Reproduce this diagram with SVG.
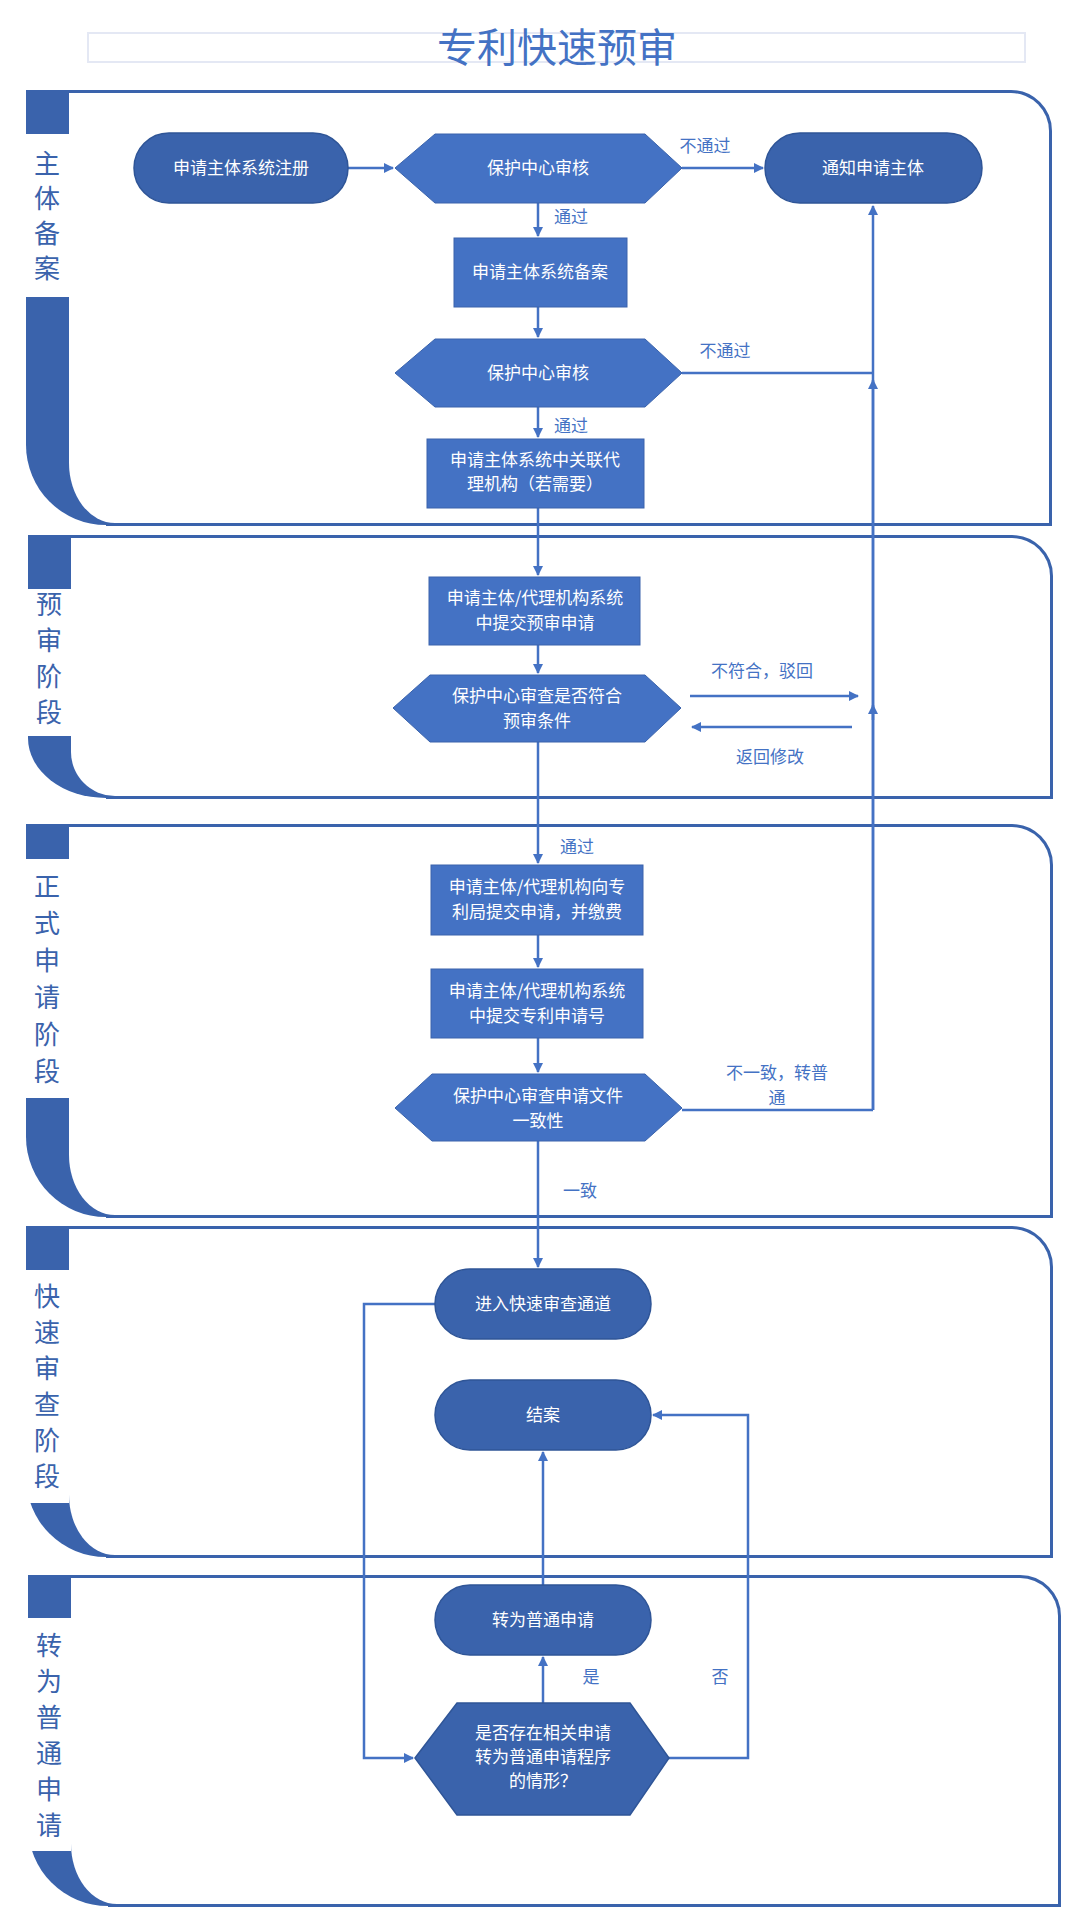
<svg xmlns="http://www.w3.org/2000/svg" width="1080" height="1928" viewBox="0 0 1080 1928">
<style>
.lane{fill:#3A63AC}
.inner{fill:#fff}
.out{fill:none;stroke:#3A63AC;stroke-width:2}
.lbl{fill:#fff}
.lt{font-family:"Noto Sans CJK SC",sans-serif;font-size:26px;fill:#3A63AC;text-anchor:middle}
.dk{fill:#3A63AC;stroke:#2F5597;stroke-width:1.5}
.lg{fill:#4472C4;stroke:#3A63AC;stroke-width:1}
.nt{font-family:"Noto Sans CJK SC",sans-serif;font-size:17px;fill:#fff;text-anchor:middle}
.el{font-family:"Noto Sans CJK SC",sans-serif;font-size:17px;fill:#4472C4;text-anchor:middle}
.c{fill:none;stroke:#4472C4;stroke-width:2.5}
</style>
<defs>
<marker id="a" markerWidth="10" markerHeight="10" refX="9" refY="5" orient="auto" markerUnits="userSpaceOnUse" viewBox="0 0 10 10"><path d="M0,0 L10,5 L0,10 Z" fill="#4472C4"/></marker>
</defs>
<rect x="88" y="33" width="937" height="29" fill="#fff" stroke="#E4E8F4" stroke-width="2"/>
<text x="557" y="62" font-family="Noto Sans CJK SC,sans-serif" font-size="40" fill="#4472C4" text-anchor="middle">专利快速预审</text>

<g id="lane1">
<path class="lane" d="M26,91 H1011 A40,40 0 0 1 1051,131 V525 H106 A80,80 0 0 1 26,445 Z"/>
<path class="inner" d="M69,93 H1011 A38,38 0 0 1 1049,131 V523 H115 A46,60 0 0 1 69,463 Z"/>
<path class="out" d="M26,91 H1011 A40,40 0 0 1 1051,131 V525 H106"/>
<rect class="lbl" x="26" y="134" width="43" height="163"/>
<text class="lt"><tspan x="47" y="173">主</tspan><tspan x="47" y="208">体</tspan><tspan x="47" y="243">备</tspan><tspan x="47" y="278">案</tspan></text>
</g>
<g id="lane2">
<path class="lane" d="M28,536 H1012 A40,40 0 0 1 1052,576 V798 H106 A78,60 0 0 1 28,738 Z"/>
<path class="inner" d="M71,538 H1012 A38,38 0 0 1 1050,576 V796 H115 A44,44 0 0 1 71,752 Z"/>
<path class="out" d="M28,536 H1012 A40,40 0 0 1 1052,576 V798 H106"/>
<rect class="lbl" x="28" y="589" width="43" height="147"/>
<text class="lt"><tspan x="49" y="614">预</tspan><tspan x="49" y="650">审</tspan><tspan x="49" y="686">阶</tspan><tspan x="49" y="722">段</tspan></text>
</g>
<g id="lane3">
<path class="lane" d="M26,825 H1012 A40,40 0 0 1 1052,865 V1217 H106 A80,80 0 0 1 26,1137 Z"/>
<path class="inner" d="M69,827 H1012 A38,38 0 0 1 1050,865 V1215 H115 A46,60 0 0 1 69,1155 Z"/>
<path class="out" d="M26,825 H1012 A40,40 0 0 1 1052,865 V1217 H106"/>
<rect class="lbl" x="26" y="859" width="43" height="239"/>
<text class="lt"><tspan x="47" y="896">正</tspan><tspan x="47" y="933">式</tspan><tspan x="47" y="970">申</tspan><tspan x="47" y="1007">请</tspan><tspan x="47" y="1044">阶</tspan><tspan x="47" y="1081">段</tspan></text>
</g>
<g id="lane4">
<path class="lane" d="M26,1227 H1012 A40,40 0 0 1 1052,1267 V1557 H106 A80,80 0 0 1 26,1477 Z"/>
<path class="inner" d="M69,1229 H1012 A38,38 0 0 1 1050,1267 V1555 H115 A46,60 0 0 1 69,1495 Z"/>
<path class="out" d="M26,1227 H1012 A40,40 0 0 1 1052,1267 V1557 H106"/>
<rect class="lbl" x="26" y="1270" width="43" height="233"/>
<text class="lt"><tspan x="47" y="1306">快</tspan><tspan x="47" y="1342">速</tspan><tspan x="47" y="1378">审</tspan><tspan x="47" y="1414">查</tspan><tspan x="47" y="1450">阶</tspan><tspan x="47" y="1486">段</tspan></text>
</g>
<g id="lane5">
<path class="lane" d="M28,1576 H1020 A40,40 0 0 1 1060,1616 V1906 H108 A80,80 0 0 1 28,1826 Z"/>
<path class="inner" d="M71,1578 H1020 A38,38 0 0 1 1058,1616 V1904 H117 A46,60 0 0 1 71,1844 Z"/>
<path class="out" d="M28,1576 H1020 A40,40 0 0 1 1060,1616 V1906 H108"/>
<rect class="lbl" x="28" y="1618" width="43" height="233"/>
<text class="lt"><tspan x="49" y="1655">转</tspan><tspan x="49" y="1691">为</tspan><tspan x="49" y="1727">普</tspan><tspan x="49" y="1763">通</tspan><tspan x="49" y="1799">申</tspan><tspan x="49" y="1835">请</tspan></text>
</g>

<g id="connectors">
<path class="c" d="M348,168 H393" marker-end="url(#a)"/>
<path class="c" d="M682,168 H763" marker-end="url(#a)"/>
<path class="c" d="M538,203 V236" marker-end="url(#a)"/>
<path class="c" d="M538,307 V337" marker-end="url(#a)"/>
<path class="c" d="M538,407 V437" marker-end="url(#a)"/>
<path class="c" d="M682,373 H873"/>
<path class="c" d="M873,1110 V206" marker-end="url(#a)"/>
<path class="c" d="M873,720 V380" marker-end="url(#a)"/>
<path class="c" d="M873,1110 V705" marker-end="url(#a)"/>
<path class="c" d="M538,508 V575" marker-end="url(#a)"/>
<path class="c" d="M538,645 V673" marker-end="url(#a)"/>
<path class="c" d="M690,696 H858" marker-end="url(#a)"/>
<path class="c" d="M852,727 H692" marker-end="url(#a)"/>
<path class="c" d="M538,742 V863" marker-end="url(#a)"/>
<path class="c" d="M538,935 V967" marker-end="url(#a)"/>
<path class="c" d="M538,1038 V1072" marker-end="url(#a)"/>
<path class="c" d="M682,1110 H873"/>
<path class="c" d="M538,1141 V1267" marker-end="url(#a)"/>
<path class="c" d="M435,1304 H364 V1758 H413" marker-end="url(#a)"/>
<path class="c" d="M669,1758 H748 V1415 H653" marker-end="url(#a)"/>
<path class="c" d="M543,1585 V1452" marker-end="url(#a)"/>
<path class="c" d="M543,1703 V1657" marker-end="url(#a)"/>
<text class="el" x="705" y="152">不通过</text>
<text class="el" x="571" y="223">通过</text>
<text class="el" x="725" y="357">不通过</text>
<text class="el" x="571" y="432">通过</text>
<text class="el" x="762" y="677">不符合，驳回</text>
<text class="el" x="770" y="763">返回修改</text>
<text class="el" x="577" y="853">通过</text>
<text class="el" x="777" y="1079">不一致，转普</text>
<text class="el" x="777" y="1104">通</text>
<text class="el" x="580" y="1197">一致</text>
<text class="el" x="591" y="1683">是</text>
<text class="el" x="720" y="1683">否</text>
</g>

<g id="n1"><rect class="dk" x="134" y="133" width="214" height="70" rx="35"/><text class="nt" x="241" y="174">申请主体系统注册</text></g>
<g id="n2"><polygon class="lg" points="395,168 435,134 645,134 682,168 645,203 435,203"/><text class="nt" x="538" y="174">保护中心审核</text></g>
<g id="n3"><rect class="dk" x="765" y="133" width="217" height="70" rx="35"/><text class="nt" x="873" y="174">通知申请主体</text></g>
<g id="n4"><rect class="lg" x="454" y="238" width="173" height="69"/><text class="nt" x="540" y="278">申请主体系统备案</text></g>
<g id="n5"><polygon class="lg" points="395,373 435,339 645,339 682,373 645,407 435,407"/><text class="nt" x="538" y="379">保护中心审核</text></g>
<g id="n6"><rect class="lg" x="427" y="439" width="217" height="69"/><text class="nt"><tspan x="535" y="466">申请主体系统中关联代</tspan><tspan x="535" y="490">理机构（若需要）</tspan></text></g>
<g id="n7"><rect class="lg" x="429" y="577" width="211" height="68"/><text class="nt"><tspan x="535" y="604">申请主体/代理机构系统</tspan><tspan x="535" y="629">中提交预审申请</tspan></text></g>
<g id="n8"><polygon class="lg" points="393,708 430,675 645,675 681,708 645,742 430,742"/><text class="nt"><tspan x="537" y="702">保护中心审查是否符合</tspan><tspan x="537" y="727">预审条件</tspan></text></g>
<g id="n9"><rect class="lg" x="431" y="865" width="212" height="70"/><text class="nt"><tspan x="537" y="893">申请主体/代理机构向专</tspan><tspan x="537" y="918">利局提交申请，并缴费</tspan></text></g>
<g id="n10"><rect class="lg" x="431" y="969" width="212" height="69"/><text class="nt"><tspan x="537" y="997">申请主体/代理机构系统</tspan><tspan x="537" y="1022">中提交专利申请号</tspan></text></g>
<g id="n11"><polygon class="lg" points="395,1108 432,1074 645,1074 682,1108 645,1141 432,1141"/><text class="nt"><tspan x="538" y="1102">保护中心审查申请文件</tspan><tspan x="538" y="1127">一致性</tspan></text></g>
<g id="n12"><rect class="dk" x="435" y="1269" width="216" height="70" rx="35"/><text class="nt" x="543" y="1310">进入快速审查通道</text></g>
<g id="n13"><rect class="dk" x="435" y="1380" width="216" height="70" rx="35"/><text class="nt" x="543" y="1421">结案</text></g>
<g id="n14"><rect class="dk" x="435" y="1585" width="216" height="70" rx="35"/><text class="nt" x="543" y="1626">转为普通申请</text></g>
<g id="n15"><polygon class="dk" points="415,1758 457,1703 630,1703 669,1758 630,1815 457,1815"/><text class="nt"><tspan x="543" y="1739">是否存在相关申请</tspan><tspan x="543" y="1763">转为普通申请程序</tspan><tspan x="543" y="1787">的情形？</tspan></text></g>
</svg>
